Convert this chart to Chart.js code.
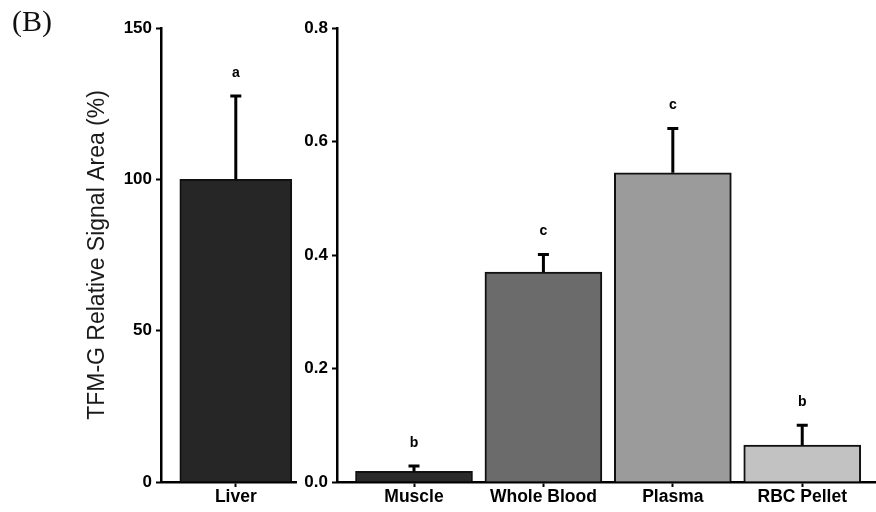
<!DOCTYPE html>
<html>
<head>
<meta charset="utf-8">
<script src="https://cdn.jsdelivr.net/npm/chart.js@4.4.0/dist/chart.umd.min.js"></script>
<style>
  body { margin: 0; background: #fff; }
  #wrap { position: relative; width: 876px; height: 512px; overflow: hidden; background: #fff; }
  #panel { position: absolute; left: 12px; top: 4px; font: 30px "Liberation Serif", serif; color: #111; }
  #liverChart { position: absolute; left: 0; top: 0; }
  #bloodChart { position: absolute; left: 297px; top: 0; }
</style>
</head>
<body>
<div id="wrap">
  <canvas id="liverChart" width="297" height="512"></canvas>
  <canvas id="bloodChart" width="579" height="512"></canvas>
  <div id="panel">(B)</div>
</div>
<script>
// values

const liverNames = ["Liver"];
const liverValues = [100];
const liverErrors = [27.5];
const liverLetters = ["a"];
const liverTicks = [0, 50, 100, 150];

const tissueNames = ["Muscle", "Whole Blood", "Plasma", "RBC Pellet"];
const tissueValues = [0.019, 0.37, 0.545, 0.065];
const tissueErrors = [0.009, 0.031, 0.078, 0.035];
const tissueLetters = ["b", "c", "c", "b"];
const tissueTicks = [0, 0.2, 0.4, 0.6, 0.8];

const tissueColors = ["#2a2a2a", "#6b6b6b", "#9b9b9b", "#c2c2c2"];

const sans = "'Liberation Sans', Arial, sans-serif";

// Plugin that draws the upper error bar and the letter above each bar

const errorBars = {
  id: "errorBars",
  afterDatasetsDraw(chart, args, opts) {
    const ctx = chart.ctx;
    const yScale = chart.scales.y;
    const meta = chart.getDatasetMeta(0);
    const values = chart.data.datasets[0].data;
    ctx.save();
    ctx.strokeStyle = "#000";
    ctx.fillStyle = "#000";
    ctx.lineWidth = 3;
    meta.data.forEach((bar, i) => {
      const top = yScale.getPixelForValue(values[i].y + opts.errors[i]);
      ctx.beginPath();
      ctx.moveTo(bar.x, bar.y);
      ctx.lineTo(bar.x, top);
      ctx.moveTo(bar.x - 5.5, top);
      ctx.lineTo(bar.x + 5.5, top);
      ctx.stroke();
      ctx.font = "bold 14px " + sans;
      ctx.textAlign = "center";
      ctx.textBaseline = "middle";
      ctx.fillText(opts.letters[i], bar.x, top - 23);
    });
    ctx.restore();
  },
};

// Shared axis look

function yAxis(ticks, width, title) {
  return {
    min: ticks[0],
    max: ticks[ticks.length - 1],
    afterFit: (s) => { s.width = width; },
    afterBuildTicks: (s) => { s.ticks = ticks.map((v) => ({ value: v })); },
    border: { display: true, color: "#000", width: 2.5 },
    grid: { drawOnChartArea: false, drawTicks: true, tickLength: 5, tickColor: "#000", tickWidth: 2 },
    ticks: {
      padding: 4,
      color: "#000",
      font: { family: sans, size: 17, weight: "bold" },
      callback: (v) => (ticks[ticks.length - 1] < 1 ? v.toFixed(1) : v),
    },
    title: title,
  };
}

function xAxis(names, min, max) {
  return {
    type: "linear",
    min: min,
    max: max,
    offset: false,
    afterFit: (s) => { s.height = 30; },
    afterBuildTicks: (s) => { s.ticks = names.map((n, i) => ({ value: i + 1 })); },
    border: { display: true, color: "#000", width: 2.5 },
    grid: { offset: false, drawOnChartArea: false, drawTicks: true, tickLength: 5, tickColor: "#000", tickWidth: 2 },
    ticks: {
      padding: 0,
      color: "#000",
      maxRotation: 0,
      font: { family: sans, size: 17.5, weight: "bold" },
      callback: (v) => names[v - 1] || "",
    },
  };
}

function createChart(id, names, values, errors, letters, ticks, colors, opts) {
  new Chart(id, {
    type: "bar",
    data: {
      datasets: [
        {
          data: values.map((v, i) => ({ x: i + 1, y: v })),
          backgroundColor: colors,
          borderColor: "#111",
          borderWidth: 2,
          barThickness: opts.barWidth,
        },
      ],
    },
    options: {
      responsive: false,
      animation: false,
      layout: { padding: { left: opts.padLeft, top: 28, right: 0, bottom: 0 } },
      scales: {
        x: xAxis(names, opts.xMin, opts.xMax),
        y: yAxis(ticks, opts.axisWidth, opts.title),
      },
      plugins: {
        legend: { display: false },
        tooltip: { enabled: false },
        errorBars: { errors: errors, letters: letters },
      },
    },
    plugins: [errorBars],
  });
}

createChart("liverChart", liverNames, liverValues, liverErrors, liverLetters, liverTicks, ["#262626"], {
  barWidth: 112,
  xMin: 0.45,
  xMax: 1.45,
  padLeft: 0,
  axisWidth: 161,
  title: {
    display: true,
    text: "TFM-G Relative Signal Area (%)",
    color: "#1a1a1a",
    padding: { top: 84, bottom: 0 },
    font: { family: sans, size: 23, weight: "normal" },
  },
});

createChart("bloodChart", tissueNames, tissueValues, tissueErrors, tissueLetters, tissueTicks, tissueColors, {
  barWidth: 117,
  xMin: 0.405,
  xMax: 4.57,
  padLeft: 0,
  axisWidth: 40,
  title: { display: false },
});
</script>
</body>
</html>
